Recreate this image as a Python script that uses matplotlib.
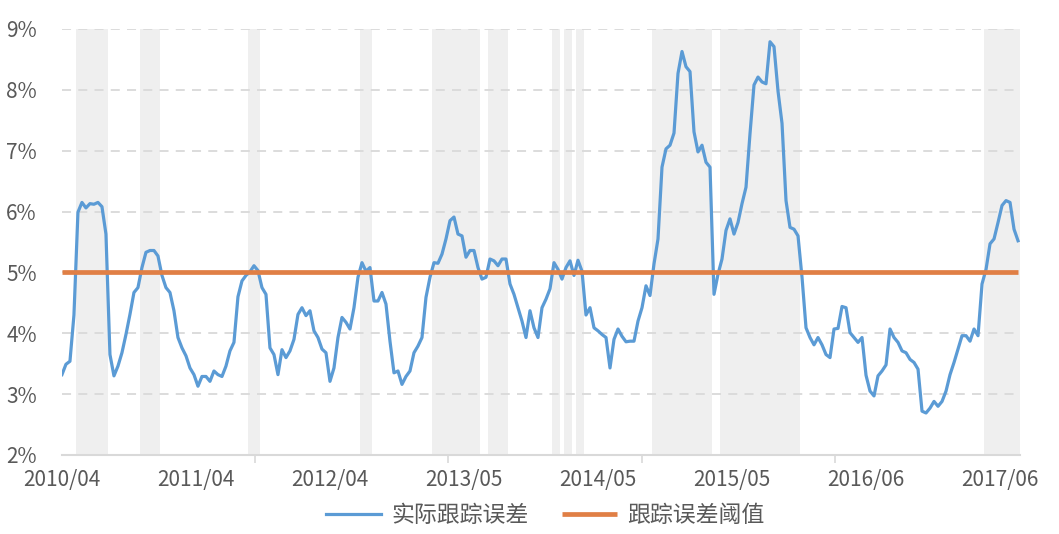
import numpy as np
import matplotlib.pyplot as plt

plt.rcParams['font.family'] = ['Noto Sans CJK SC', 'DejaVu Sans']

# rolling tracking error (%), equally spaced samples
tracking_error = [
    3.32, 3.49, 3.54, 4.30, 5.99, 6.15, 6.06, 6.13, 6.12, 6.15,
    6.08, 5.63, 3.65, 3.30, 3.46, 3.68, 3.98, 4.31, 4.67, 4.75,
    5.08, 5.33, 5.36, 5.36, 5.27, 4.95, 4.75, 4.67, 4.37, 3.93,
    3.76, 3.63, 3.43, 3.32, 3.13, 3.29, 3.29, 3.21, 3.38, 3.32,
    3.29, 3.46, 3.71, 3.85, 4.60, 4.86, 4.95, 5.01, 5.11, 5.03,
    4.75, 4.64, 3.76, 3.65, 3.32, 3.73, 3.60, 3.71, 3.90, 4.31,
    4.42, 4.29, 4.37, 4.04, 3.93, 3.74, 3.68, 3.21, 3.43, 3.93,
    4.26, 4.18, 4.07, 4.42, 4.92, 5.16, 5.02, 5.08, 4.53, 4.53,
    4.67, 4.48, 3.87, 3.35, 3.38, 3.16, 3.29, 3.38, 3.68, 3.79,
    3.93, 4.59, 4.92, 5.16, 5.15, 5.30, 5.55, 5.85, 5.91, 5.63,
    5.60, 5.25, 5.36, 5.36, 5.08, 4.89, 4.92, 5.22, 5.19, 5.11,
    5.22, 5.22, 4.81, 4.64, 4.42, 4.20, 3.93, 4.37, 4.09, 3.93,
    4.42, 4.56, 4.73, 5.16, 5.05, 4.89, 5.08, 5.19, 4.95, 5.20,
    5.02, 4.30, 4.42, 4.09, 4.04, 3.98, 3.93, 3.43, 3.90, 4.07,
    3.95, 3.86, 3.87, 3.87, 4.20, 4.42, 4.78, 4.62, 5.14, 5.55,
    6.73, 7.03, 7.09, 7.29, 8.27, 8.63, 8.38, 8.30, 7.31, 6.98,
    7.09, 6.81, 6.73, 4.64, 4.97, 5.22, 5.69, 5.88, 5.63, 5.82,
    6.13, 6.40, 7.28, 8.08, 8.21, 8.13, 8.10, 8.79, 8.71, 7.98,
    7.45, 6.18, 5.74, 5.71, 5.60, 4.92, 4.09, 3.93, 3.81, 3.93,
    3.81, 3.65, 3.60, 4.07, 4.08, 4.44, 4.42, 4.01, 3.93, 3.85,
    3.93, 3.31, 3.05, 2.97, 3.30, 3.38, 3.48, 4.07, 3.93, 3.85,
    3.71, 3.68, 3.57, 3.52, 3.41, 2.72, 2.69, 2.77, 2.88, 2.80,
    2.88, 3.05, 3.32, 3.52, 3.74, 3.96, 3.96, 3.87, 4.07, 3.96,
    4.81, 5.05, 5.47, 5.55, 5.82, 6.10, 6.18, 6.15, 5.71, 5.52,
]
threshold = 5.0
date_labels = ['2010/04', '2011/04', '2012/04', '2013/05',
               '2014/05', '2015/05', '2016/06', '2017/06']
label_step = 33.5   # samples between date labels
tick_step = 48.3    # samples between axis tick marks

te = np.array(tracking_error)
x = np.arange(len(te))
xmax = len(te) - 0.5

fig = plt.figure(figsize=(10.59, 5.34), dpi=100)
ax = fig.add_axes([0.0585, 0.148, 0.9047, 0.7977])

# grey bands where tracking error is above the threshold
above = te > threshold
i = 0
while i < len(te):
    if above[i]:
        j = i
        while j + 1 < len(te) and above[j + 1]:
            j += 1
        ax.axvspan(max(i - 0.5, 0), min(j + 0.5, xmax), color='#EFEFEF', lw=0, zorder=0)
        i = j + 1
    else:
        i += 1

ax.plot(x, te, color='#5B9BD5', lw=2.3, zorder=3, label='实际跟踪误差')
ax.plot(x, np.full(len(te), threshold), color='#E07F45', lw=3.4, zorder=4,
        label='跟踪误差阈值', solid_capstyle='butt')

ax.set_xlim(0, xmax)
ax.set_ylim(2, 9)
ax.set_yticks(range(2, 10))
ax.set_yticklabels([f'{v}%' for v in range(2, 10)])
for v in range(3, 10):
    ax.axhline(v, color='#D9D9D9', lw=1.3, ls=(0, (5, 4)), zorder=1)

ax.set_xticks([k * label_step for k in range(len(date_labels))])
ax.set_xticklabels(date_labels)
ax.set_xticks(np.arange(0, xmax, tick_step), minor=True)
ax.tick_params(axis='x', which='major', length=0, pad=10, labelsize=15, colors='#595959')
ax.tick_params(axis='x', which='minor', length=6, width=1.2, color='#D9D9D9')
ax.tick_params(axis='y', length=0, pad=18, labelsize=15, colors='#595959')

for s in ['top', 'right', 'left']:
    ax.spines[s].set_visible(False)
ax.spines['bottom'].set_color('#D9D9D9')
ax.spines['bottom'].set_linewidth(1.5)

fig.legend(loc='center', bbox_to_anchor=(0.515, 0.035), ncol=2, frameon=False,
           fontsize=16.5, handlelength=2.4, handletextpad=0.45, columnspacing=1.45,
           labelcolor='#595959')

plt.savefig('out.png', dpi=100)
